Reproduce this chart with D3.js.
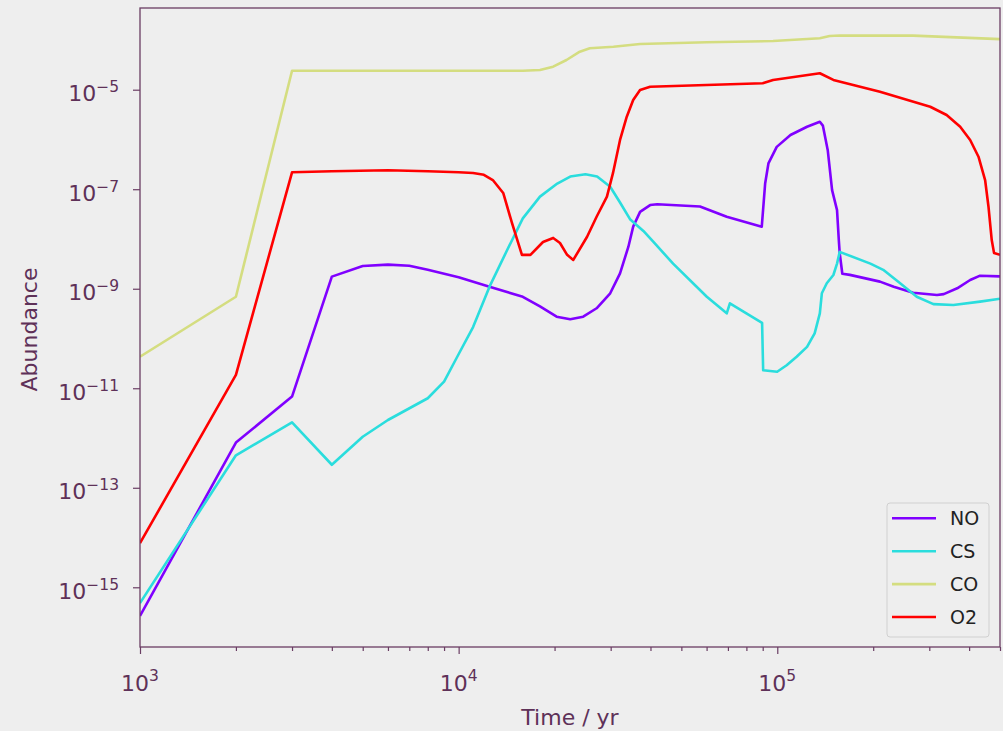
<!DOCTYPE html>
<html><head><meta charset="utf-8">
<script src="https://cdn.jsdelivr.net/npm/d3@7"></script>
<style>
html,body{margin:0;padding:0;background:#eeeeee;}
svg{display:block;font-family:"DejaVu Sans",sans-serif;}
</style></head>
<body>
<svg id="chart" width="1003" height="731"></svg>
<script>
// ---------- data ----------
const seriesNames = ["NO", "CS", "CO", "O2"];
const seriesColors = ["#8000ff", "#2adddd", "#d4dd80", "#ff0000"];

const noTime = [1000,2000,3000,4000,5000,6000,7000,8000,1e4,1.25e4,1.59e4,1.8e4,2.03e4,2.24e4,2.46e4,2.71e4,2.99e4,3.21e4,3.41e4,3.53e4,3.71e4,3.99e4,4.2e4,5.72e4,6.94e4,8.94e4,9.16e4,9.38e4,9.96e4,1.1e5,1.24e5,1.36e5,1.39e5,1.44e5,1.486e5,1.54e5,1.56e5,1.57e5,1.6e5,1.69e5,2.1e5,2.32e5,2.67e5,3.17e5,3.33e5,3.67e5,4.03e5,4.33e5,5e5];
const noValues = [2.65e-16,8.1e-13,6.8e-12,1.75e-9,2.86e-9,3.05e-9,2.9e-9,2.4e-9,1.7e-9,1.1e-9,6.9e-10,4.4e-10,2.74e-10,2.43e-10,2.74e-10,4.05e-10,8.1e-10,2.04e-9,7.0e-9,1.77e-8,3.5e-8,4.8e-8,5.0e-8,4.5e-8,2.8e-8,1.77e-8,1.3e-7,3.3e-7,7.1e-7,1.23e-6,1.8e-6,2.27e-6,1.9e-6,6.1e-7,9.6e-8,3.8e-8,9.5e-9,5.2e-9,2.0e-9,1.9e-9,1.39e-9,1.1e-9,8.3e-10,7.5e-10,7.8e-10,1.02e-9,1.5e-9,1.83e-9,1.77e-9];

const csTime = [1000,2000,3000,4000,5000,6000,8000,9000,9.9e3,1.11e4,1.25e4,1.42e4,1.59e4,1.8e4,2.04e4,2.24e4,2.5e4,2.72e4,2.99e4,3.21e4,3.45e4,3.8e4,4.08e4,4.71e4,6.01e4,6.94e4,7.1e4,8.96e4,9.03e4,9.99e4,1.07e5,1.15e5,1.24e5,1.31e5,1.36e5,1.38e5,1.43e5,1.5e5,1.54e5,1.57e5,1.96e5,2.15e5,2.43e5,2.74e5,3.09e5,3.57e5,4.33e5,5e5];
const csValues = [4.8e-16,4.5e-13,2.07e-12,2.9e-13,1.06e-12,2.3e-12,6.3e-12,1.36e-11,4.3e-11,1.7e-10,1.1e-9,6.0e-9,2.6e-8,7.1e-8,1.3e-7,1.8e-7,2.0e-7,1.8e-7,1.12e-7,5.4e-8,2.5e-8,1.45e-8,8.8e-9,3.2e-9,6.9e-10,3.2e-10,5.1e-10,2.07e-10,2.3e-11,2.15e-11,2.9e-11,4.3e-11,6.8e-11,1.27e-10,3.2e-10,8.1e-10,1.29e-9,1.89e-9,3.2e-9,5.5e-9,3.2e-9,2.4e-9,1.29e-9,6.9e-10,4.9e-10,4.7e-10,5.5e-10,6.3e-10];

const coTime = [1000,2000,3000,1e4,1.59e4,1.8e4,1.98e4,2.18e4,2.4e4,2.58e4,3.06e4,3.71e4,6.0e4,9.7e4,1.36e5,1.46e5,1.57e5,2.67e5,5e5];
const coValues = [4.3e-11,6.9e-10,2.4e-5,2.4e-5,2.4e-5,2.49e-5,2.9e-5,3.95e-5,5.8e-5,6.8e-5,7.3e-5,8.3e-5,9.0e-5,9.5e-5,1.08e-4,1.2e-4,1.23e-4,1.22e-4,1.04e-4];

const o2Time = [1000,2000,3000,4000,6000,8000,1e4,1.11e4,1.2e4,1.28e4,1.38e4,1.47e4,1.58e4,1.68e4,1.84e4,1.98e4,2.08e4,2.19e4,2.29e4,2.53e4,2.71e4,2.92e4,3.05e4,3.21e4,3.37e4,3.53e4,3.71e4,3.99e4,9.0e4,9.7e4,1.36e5,1.5e5,2.1e5,3.02e5,3.4e5,3.75e5,4.03e5,4.28e5,4.49e5,4.6e5,4.71e5,4.79e5,5e5];
const o2Values = [7.7e-15,1.85e-11,2.19e-7,2.3e-7,2.4e-7,2.3e-7,2.2e-7,2.12e-7,1.95e-7,1.53e-7,8.4e-8,2.1e-8,4.8e-9,4.8e-9,8.7e-9,1.05e-8,8.3e-9,4.8e-9,3.8e-9,1.11e-8,2.8e-8,7.1e-8,2.1e-7,9.8e-7,2.87e-6,6.2e-6,9.9e-6,1.15e-5,1.35e-5,1.57e-5,2.14e-5,1.57e-5,9.1e-6,4.55e-6,3.1e-6,1.8e-6,9.75e-7,4.5e-7,1.53e-7,4.5e-8,9.5e-9,5.2e-9,4.8e-9];

const xMajorTicks = [1e3, 1e4, 1e5];
const xMajorExponents = ["3", "4", "5"];
const yMajorTicks = [1e-15, 1e-13, 1e-11, 1e-9, 1e-7, 1e-5];
const yMajorExponents = ["\u221215", "\u221213", "\u221211", "\u22129", "\u22127", "\u22125"];
const xLabel = "Time / yr";
const yLabel = "Abundance";

// ---------- layout ----------
const svg = d3.select("#chart");
const L = 140, R = 1000, T = 8, B = 647;
const axisColor = "#6a3d63";
const textColor = "#5e3158";

const x = d3.scaleLog().domain([1e3, 5e5]).range([L, R]);
const y = d3.scaleLog().domain([Math.pow(10, -16.2), Math.pow(10, -3.358)]).range([B, T]);

svg.append("rect").attr("width", 1003).attr("height", 731).attr("fill", "#eeeeee");

svg.append("clipPath").attr("id", "plotclip")
  .append("rect").attr("x", L).attr("y", T).attr("width", R - L).attr("height", B - T);

const series = [
  {name: seriesNames[0], color: seriesColors[0], t: noTime, v: noValues},
  {name: seriesNames[1], color: seriesColors[1], t: csTime, v: csValues},
  {name: seriesNames[2], color: seriesColors[2], t: coTime, v: coValues},
  {name: seriesNames[3], color: seriesColors[3], t: o2Time, v: o2Values}
];

const line = d3.line().x(d => x(d[0])).y(d => y(d[1]));
const g = svg.append("g").attr("clip-path", "url(#plotclip)");
series.forEach(s => {
  g.append("path")
    .datum(s.t.map((t, i) => [t, s.v[i]]))
    .attr("d", line)
    .attr("fill", "none")
    .attr("stroke", s.color)
    .attr("stroke-width", 2.6)
    .attr("stroke-linejoin", "round")
    .attr("stroke-linecap", "butt");
});

// x axis minor ticks
const xMinor = [];
[1e3, 1e4, 1e5].forEach(d => { for (let k = 2; k <= 9; k++) { const v = d * k; if (v <= 5e5) xMinor.push(v); } });
const xAxisMinor = d3.axisBottom(x).tickValues(xMinor).tickSize(4).tickFormat("");
const xAxisMajor = d3.axisBottom(x).tickValues(xMajorTicks).tickSize(7).tickFormat("");
const yAxisMajor = d3.axisLeft(y).tickValues(yMajorTicks).tickSize(7).tickFormat("");

[xAxisMinor, xAxisMajor].forEach(ax => {
  const a = svg.append("g").attr("transform", `translate(0,${B})`).call(ax);
  a.select(".domain").remove();
  a.selectAll("line").attr("stroke", axisColor).attr("stroke-width", 1.2);
});
const ya = svg.append("g").attr("transform", `translate(${L},0)`).call(yAxisMajor);
ya.select(".domain").remove();
ya.selectAll("line").attr("stroke", axisColor).attr("stroke-width", 1.2);

// frame
svg.append("rect").attr("x", L).attr("y", T).attr("width", R - L).attr("height", B - T)
  .attr("fill", "none").attr("stroke", axisColor).attr("stroke-width", 1.3);

// tick labels
xMajorTicks.forEach((v, i) => {
  const t = svg.append("text").attr("x", x(v)).attr("y", 691)
    .attr("text-anchor", "middle").attr("fill", textColor).style("font-size", "22px");
  t.append("tspan").text("10");
  t.append("tspan").attr("dy", -10).style("font-size", "15.5px").text(xMajorExponents[i]);
});
yMajorTicks.forEach((v, i) => {
  const t = svg.append("text").attr("x", 119).attr("y", y(v) + 11.5)
    .attr("text-anchor", "end").attr("fill", textColor).style("font-size", "22px");
  t.append("tspan").text("10");
  t.append("tspan").attr("dy", -9).style("font-size", "15.5px").text(yMajorExponents[i]);
});

// axis labels
svg.append("text").attr("x", (L + R) / 2).attr("y", 725).attr("text-anchor", "middle")
  .attr("fill", textColor).style("font-size", "22px").text(xLabel);
svg.append("text").attr("transform", `translate(37,${(T + B) / 2 + 2}) rotate(-90)`)
  .attr("text-anchor", "middle").attr("fill", textColor).style("font-size", "22px").text(yLabel);

// legend
const lg = svg.append("g");
lg.append("rect").attr("x", 887).attr("y", 503).attr("width", 102).attr("height", 134)
  .attr("rx", 3).attr("fill", "#eeeeee").attr("stroke", "#d0d0d0").attr("stroke-width", 1);
series.forEach((s, i) => {
  const yy = 518.3 + i * 32.9;
  lg.append("line").attr("x1", 892).attr("x2", 936).attr("y1", yy).attr("y2", yy)
    .attr("stroke", s.color).attr("stroke-width", 2.6);
  lg.append("text").attr("x", 950).attr("y", yy + 7).attr("fill", "#222222")
    .style("font-size", "19px").text(s.name);
});
</script>
</body></html>
